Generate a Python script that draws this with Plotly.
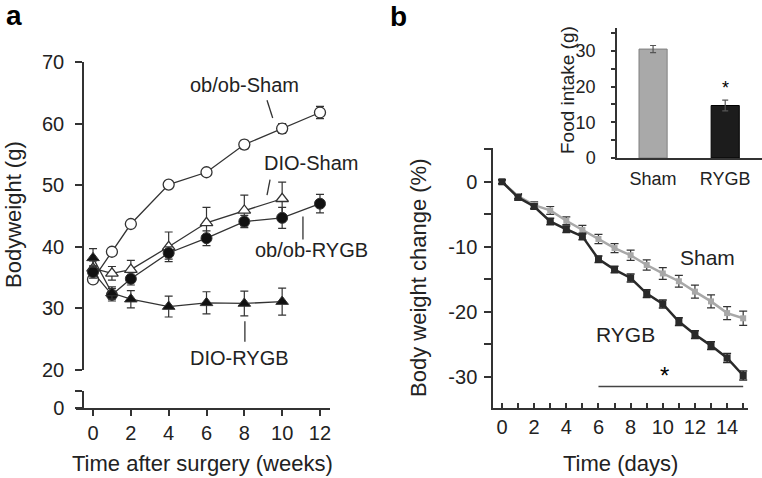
import plotly.graph_objects as go

# ---- panel a: body weight over weeks ----
weeks = [0, 1, 2, 4, 6, 8, 10, 12]
obob_sham = [34.7, 39.2, 43.7, 50.1, 52.1, 56.6, 59.2, 61.8]
obob_sham_err = [0.5, 0.5, 0.5, 0.5, 0.5, 0.7, 0.8, 1.0]
obob_rygb = [35.9, 32.2, 34.8, 39.0, 41.4, 44.1, 44.7, 47.0]
obob_rygb_err = [1.0, 1.0, 1.0, 1.0, 1.2, 1.0, 1.7, 1.5]
weeks_dio = [0, 1, 2, 4, 6, 8, 10]
dio_sham = [36.5, 35.7, 36.3, 40.0, 43.9, 45.9, 47.8]
dio_sham_err = [1.2, 1.1, 1.5, 2.4, 2.5, 2.5, 2.7]
dio_rygb = [38.2, 32.5, 31.5, 30.3, 30.9, 30.8, 31.1]
dio_rygb_err = [1.5, 1.0, 1.4, 1.7, 1.8, 2.0, 2.2]

# ---- panel b: body weight change over days ----
days = list(range(16))
sham_pct = [0, -2.2, -3.6, -4.4, -6.0, -7.4, -8.8, -10.2, -11.3, -12.8, -14.1, -15.3, -16.9, -18.4, -20.2, -21.0]
sham_pct_err = [0.3, 0.4, 0.5, 0.6, 0.6, 0.7, 0.7, 0.7, 0.8, 0.8, 0.9, 0.9, 1.0, 1.0, 1.0, 1.1]
rygb_pct = [0, -2.4, -3.8, -6.1, -7.3, -8.4, -11.9, -13.5, -14.8, -17.2, -18.8, -21.5, -23.5, -25.2, -27.1, -29.8]
rygb_pct_err = [0.3, 0.4, 0.4, 0.5, 0.5, 0.5, 0.5, 0.5, 0.6, 0.6, 0.6, 0.6, 0.6, 0.6, 0.7, 0.7]
sig_days = [6, 15]
sig_level = [-31.5, -31.5]

# ---- inset: food intake ----
groups = ['Sham', 'RYGB']
food = [30.5, 14.7]
food_err = [1.0, 1.5]

W, H = 762, 478
FONT = 'Liberation Sans, Arial, sans-serif'
DARK = '#333333'


def px(x):
    return x / W


def py(y):
    return 1 - y / H


fig = go.Figure()

ma = dict(color=DARK, width=1.3)
eb = dict(type='data', color=DARK, thickness=1.2, width=4)

fig.add_trace(go.Scatter(x=weeks, y=obob_sham, mode='lines+markers', line=ma,
                         marker=dict(symbol='circle', size=11, color='white', line=dict(color=DARK, width=1.3)),
                         error_y=dict(eb, array=obob_sham_err), xaxis='x', yaxis='y'))
fig.add_trace(go.Scatter(x=weeks_dio, y=dio_sham, mode='lines+markers', line=ma,
                         marker=dict(symbol='triangle-up', size=11, color='white', line=dict(color=DARK, width=1.3)),
                         error_y=dict(eb, array=dio_sham_err), xaxis='x', yaxis='y'))
fig.add_trace(go.Scatter(x=weeks, y=obob_rygb, mode='lines+markers', line=ma,
                         marker=dict(symbol='circle', size=11, color='#111111', line=dict(color=DARK, width=1)),
                         error_y=dict(eb, array=obob_rygb_err), xaxis='x', yaxis='y'))
fig.add_trace(go.Scatter(x=weeks_dio, y=dio_rygb, mode='lines+markers', line=ma,
                         marker=dict(symbol='triangle-up', size=11, color='#111111', line=dict(color=DARK, width=1)),
                         error_y=dict(eb, array=dio_rygb_err), xaxis='x', yaxis='y'))
# empty trace so the broken lower axis segment gets its own subplot
fig.add_trace(go.Scatter(x=[], y=[], xaxis='x', yaxis='y2', hoverinfo='skip'))

# panel b lines
fig.add_trace(go.Scatter(x=days, y=sham_pct, mode='lines+markers', line=dict(color='#a8a8a8', width=2.5),
                         marker=dict(symbol='square', size=6, color='#a8a8a8'),
                         error_y=dict(type='data', array=sham_pct_err, color='#333333', thickness=1.2, width=4),
                         xaxis='x2', yaxis='y3'))
fig.add_trace(go.Scatter(x=days, y=rygb_pct, mode='lines+markers', line=dict(color='#2a2a2a', width=2.5),
                         marker=dict(symbol='square', size=7, color='#2a2a2a'),
                         error_y=dict(type='data', array=rygb_pct_err, color='#2a2a2a', thickness=1.5, width=4),
                         xaxis='x2', yaxis='y3'))
fig.add_trace(go.Scatter(x=sig_days, y=sig_level, mode='lines', line=dict(color='#444444', width=1.5),
                         xaxis='x2', yaxis='y3'))

# inset bars
fig.add_trace(go.Bar(x=groups, y=food, width=0.39,
                     marker=dict(color=['#a9a9a9', '#1c1c1c'], line=dict(color=['#808080', '#000000'], width=1)),
                     error_y=dict(type='data', array=food_err, color='#555555', thickness=1.2, width=3),
                     xaxis='x3', yaxis='y4'))

axcommon = dict(showline=True, linecolor=DARK, linewidth=1.5, showgrid=False, zeroline=False, automargin=False,
                tickcolor=DARK, tickwidth=1.5, tickfont=dict(size=20, color='#222222'))
inset_font = dict(size=18, color='#222222')

fig.update_layout(
    template='none',
    width=W, height=H, margin=dict(l=0, r=0, t=0, b=0, autoexpand=False),
    paper_bgcolor='white', plot_bgcolor='rgba(0,0,0,0)',
    showlegend=False, font=dict(family=FONT, color='#222222'),
    xaxis=dict(axcommon, domain=[px(76), px(330)], range=[-0.9, 12.53], anchor='y2',
               ticks='outside', ticklen=6, tickvals=[0, 2, 4, 6, 8, 10, 12]),
    yaxis=dict(axcommon, domain=[py(370), py(62)], range=[20, 70], anchor='free', position=px(83),
               ticks='outside', ticklen=7, ticklabelstandoff=7, tickvals=[20, 30, 40, 50, 60, 70]),
    yaxis2=dict(axcommon, domain=[py(408), py(391)], range=[0, 2.75], anchor='free', position=px(83),
                ticks='outside', ticklen=7, ticklabelstandoff=7, tickvals=[0, 2.75], ticktext=['0', '']),
    xaxis2=dict(axcommon, domain=[px(493), px(748)], range=[-0.56, 15.3], anchor='y3',
                ticks='inside', ticklen=5, tickvals=days,
                ticktext=[str(d) if d % 2 == 0 and d < 15 else '' for d in days]),
    yaxis3=dict(axcommon, domain=[py(408), py(148)], range=[-34.8, 5.2], anchor='x2',
                ticks='outside', ticklen=7, ticklabelstandoff=3, tickvals=[5, 0, -5, -10, -15, -20, -25, -30],
                ticktext=['', '0', '', '-10', '', '-20', '', '-30']),
    xaxis3=dict(axcommon, domain=[px(617), 1], range=[-0.5, 1.51], anchor='y4',
                ticks='', ticklabelstandoff=4, tickfont=inset_font),
    yaxis4=dict(axcommon, domain=[py(158), py(28)], range=[0, 36.4], anchor='x3',
                ticks='outside', ticklen=4, ticklabelstandoff=12, tickvals=[0, 5, 10, 15, 20, 25, 30, 35],
                ticktext=['0', '', '10', '', '20', '', '30', ''], tickfont=inset_font),
)

ann = []
C = dict(xanchor='center', yanchor='middle', showarrow=False)
# panel letters
ann.append(dict(C, text='<b>a</b>', x=px(14), y=py(15), xref='paper', yref='paper', font=dict(size=28, color='black')))
ann.append(dict(C, text='<b>b</b>', x=px(398), y=py(17), xref='paper', yref='paper', font=dict(size=28, color='black')))
# axis titles
ann.append(dict(C, text='Bodyweight (g)', x=px(13), y=py(215), xref='paper', yref='paper', textangle=-90, font=dict(size=22)))
ann.append(dict(C, text='Time after surgery (weeks)', x=px(202), y=py(463), xref='paper', yref='paper', font=dict(size=22)))
ann.append(dict(C, text='Body weight change (%)', x=px(418), y=py(278), xref='paper', yref='paper', textangle=-90, font=dict(size=22)))
ann.append(dict(C, text='Time (days)', x=px(620), y=py(463), xref='paper', yref='paper', font=dict(size=22)))
ann.append(dict(C, text='Food intake (g)', x=px(567), y=py(90), xref='paper', yref='paper', textangle=-90, font=dict(size=19)))
# series labels panel a
for t, x, y in [('ob/ob-Sham', 8.03, 66.3), ('DIO-Sham', 11.5, 53.6), ('ob/ob-RYGB', 11.57, 39.5), ('DIO-RYGB', 7.77, 22.0)]:
    ann.append(dict(C, text=t, x=x, y=y, xref='x', yref='y', font=dict(size=20)))
# series labels panel b
ann.append(dict(C, text='Sham', x=12.8, y=-11.7, xref='x2', yref='y3', font=dict(size=21)))
ann.append(dict(C, text='RYGB', x=7.65, y=-23.5, xref='x2', yref='y3', font=dict(size=21)))
ann.append(dict(C, text='*', x=10.1, y=-29.8, xref='x2', yref='y3', font=dict(size=24, color='black')))
ann.append(dict(C, text='*', x=1, y=19.5, xref='x3', yref='y4', font=dict(size=18, color='black')))
fig.update_layout(annotations=ann)

# pointer lines for labels
for x0, y0, x1, y1 in [(9.2, 63.8, 9.5, 60.9), (9.36, 50.9, 9.2, 48.4), (11.1, 44.9, 11.1, 41.2), (8.03, 27.9, 8.03, 24.6)]:
    fig.add_shape(type='line', x0=x0, y0=y0, x1=x1, y1=y1, xref='x', yref='y', line=dict(color=DARK, width=1.3))

# drop the default page margin so the figure fills the window; no modebar
fig.write_html("out.html", config={'displayModeBar': False},
               post_script="document.body.style.margin='0';")
